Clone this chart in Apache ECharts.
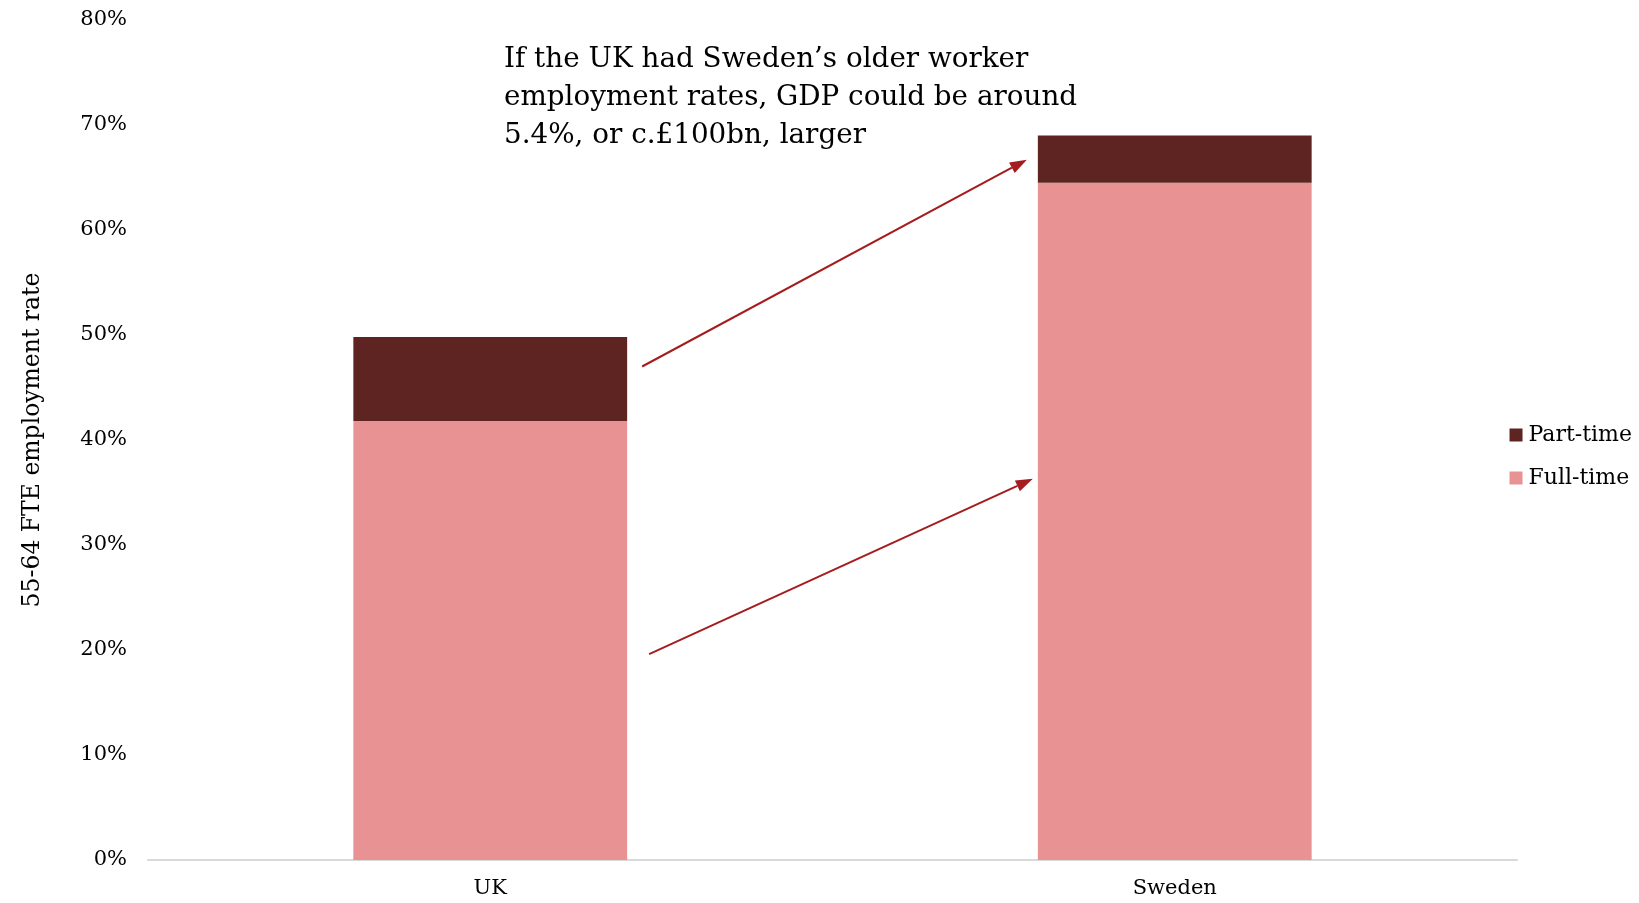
<!DOCTYPE html>
<html>
<head>
<meta charset="utf-8">
<script src="https://cdn.jsdelivr.net/npm/echarts@6/dist/echarts.min.js"></script>
<style>
  html, body { margin: 0; padding: 0; background: #ffffff; }
  #chart { width: 1639px; height: 903px; }
</style>
</head>
<body>
<div id="chart"></div>
<script>
// 55-64 full-time-equivalent employment rates, split into full- and part-time (%)
const countries = ['UK', 'Sweden'];
const fullTime = [41.8, 64.5];
const partTime = [8.0, 4.5];
const yTicks = [0, 10, 20, 30, 40, 50, 60, 70, 80];

// Arrows from UK to Sweden: [start value at UK, end value at Sweden]
const arrowSpans = [[47.0, 66.7], [19.6, 36.3]];

const calloutText = 'If the UK had Sweden\u2019s older worker\nemployment rates, GDP could be around\n5.4%, or c.\u00a3100bn, larger';

const FONT = '"DejaVu Serif", "Liberation Serif", serif';
const chart = echarts.init(document.getElementById('chart'));

chart.setOption({
  animation: false,
  backgroundColor: '#ffffff',
  textStyle: { fontFamily: FONT, color: '#000' },
  grid: { left: 148, right: 122, top: 20, bottom: 43 },
  legend: {
    orient: 'vertical',
    right: 2,
    top: 419,
    itemGap: 21,
    itemWidth: 13,
    itemHeight: 13,
    icon: 'rect',
    data: ['Part-time', 'Full-time'],
    textStyle: { fontFamily: FONT, fontSize: 22, color: '#000', padding: [0, 0, 0, 1] }
  },
  xAxis: {
    type: 'category',
    data: countries,
    axisLine: { lineStyle: { color: '#d9d9d9', width: 2 } },
    axisTick: { show: false },
    axisLabel: { fontFamily: FONT, fontSize: 21, color: '#000', margin: 18 }
  },
  yAxis: {
    type: 'value',
    min: yTicks[0],
    max: yTicks[yTicks.length - 1],
    interval: 10,
    name: '55-64 FTE employment rate',
    nameLocation: 'middle',
    nameGap: 103,
    nameTextStyle: { fontFamily: FONT, fontSize: 23.5, color: '#000' },
    axisLine: { show: false },
    axisTick: { show: false },
    splitLine: { show: false },
    axisLabel: { fontFamily: FONT, fontSize: 21, color: '#000', margin: 21, formatter: '{value}%' }
  },
  series: [
    {
      name: 'Full-time',
      type: 'bar',
      stack: 'rate',
      barCategoryGap: '60%',
      data: fullTime,
      itemStyle: { color: '#E89294' }
    },
    {
      name: 'Part-time',
      type: 'bar',
      stack: 'rate',
      barCategoryGap: '60%',
      data: partTime,
      itemStyle: { color: '#5E2421' }
    }
  ]
});

// Callout text and arrows, placed from the axis scales
const arrowGaps = [[15, 11], [22, 5]]; // px clearance from the UK bar and the Sweden bar
function drawAnnotations() {
  const toPx = (i, v) => chart.convertToPixel({ gridIndex: 0 }, [i, v]);
  const x0 = toPx(0, 0)[0];
  const x1 = toPx(1, 0)[0];
  const band = x1 - x0;
  const halfBar = band * 0.2;
  const elements = [];
  arrowSpans.forEach(([from, to], k) => {
    const sx = x0 + halfBar + arrowGaps[k][0];
    const sy = toPx(0, from)[1];
    const ex = x1 - halfBar - arrowGaps[k][1];
    const ey = toPx(1, to)[1];
    const ang = Math.atan2(ey - sy, ex - sx);
    const headLen = 17, headW = 6;
    const bx = ex - headLen * Math.cos(ang);
    const by = ey - headLen * Math.sin(ang);
    const nx = -Math.sin(ang), ny = Math.cos(ang);
    elements.push({
      type: 'line',
      shape: { x1: sx, y1: sy, x2: bx, y2: by },
      style: { stroke: '#A51C1E', lineWidth: 2 }
    });
    elements.push({
      type: 'polygon',
      shape: { points: [[ex, ey], [bx + nx * headW, by + ny * headW], [bx - nx * headW, by - ny * headW]] },
      style: { fill: '#A51C1E' }
    });
  });
  elements.push({
    type: 'text',
    left: 504,
    top: 41,
    style: {
      text: calloutText,
      font: '27.8px ' + FONT,
      fill: '#000',
      lineHeight: 38
    }
  });
  chart.setOption({ graphic: elements });
}
drawAnnotations();
</script>
</body>
</html>
